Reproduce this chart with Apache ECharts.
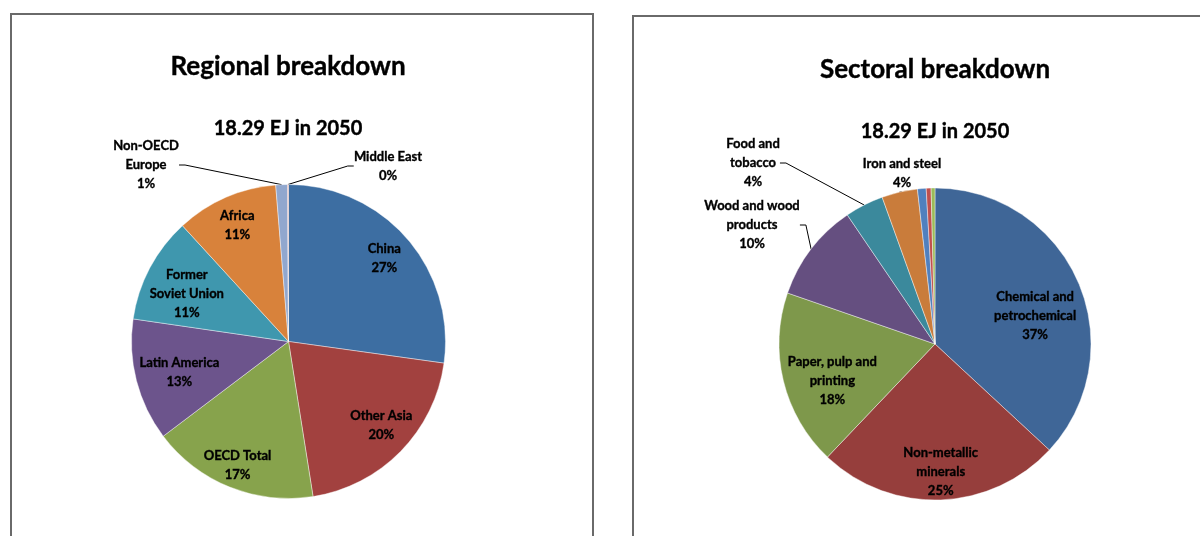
<!DOCTYPE html>
<html>
<head>
<meta charset="utf-8">
<script src="https://cdn.jsdelivr.net/npm/echarts@6/dist/echarts.min.js"></script>
<style>
  html, body { margin: 0; padding: 0; background: #fff; }
  #chart { width: 1200px; height: 536px; }
</style>
</head>
<body>
<div id="chart"></div>
<script>
// regional breakdown, clockwise from 12 o'clock
const regions = ['China', 'Other Asia', 'OECD Total', 'Latin America', 'Former\nSoviet Union', 'Africa', 'Non-OECD\nEurope', 'Middle East']
const regionShare = [27.2, 20.3, 17.2, 12.6, 10.9, 10.5, 1.2, 0.1]

// sectoral breakdown, clockwise from 12 o'clock (last three are unlabeled slivers)
const sectors = ['Chemical and\npetrochemical', 'Non-metallic\nminerals', 'Paper, pulp and\nprinting', 'Wood and wood\nproducts', 'Food and\ntobacco', 'Iron and steel', 'Other (1)', 'Other (2)', 'Other (3)']
const sectorShare = [36.9, 25.2, 18.2, 10.2, 4.0, 3.7, 0.9, 0.5, 0.4]

const titles = ['Regional breakdown', 'Sectoral breakdown']
const subtitle = '18.29 EJ in 2050'

const regionColors = ['#3d6ea2', '#a2413f', '#87a34c', '#6c548c', '#3f97ae', '#d8823b', '#91a7ce', '#cf8a88']
const sectorColors = ['#3f6697', '#963e3c', '#7e984b', '#654f80', '#3b899c', '#c97c3b', '#5080be', '#c0504d', '#9bbb59']

const FONT = 'Lato'
// thin black text border gives the heavier Calibri-bold look
const labelFont = { fontFamily: FONT, fontWeight: 'bold', fontSize: 13, lineHeight: 19, color: '#000', textBorderColor: '#000', textBorderWidth: 0.35 }
const fmt = p => p.name + '\n' + Math.round(p.percent) + '%'

// builds the visible pie (outside labels with leader lines) and a transparent
// twin whose "inside" labels sit further out, like Excel's best-fit labels
function pieSeries(names, values, colors, center, radius, labelR, outsidePos, hidden, nudges) {
  const pie = {
    type: 'pie',
    center: center,
    radius: radius,
    startAngle: 90,
    clockwise: true,
    silent: true,
    avoidLabelOverlap: false,
    itemStyle: { borderColor: 'rgba(255,255,255,0.7)', borderWidth: 0.6 },
    label: Object.assign({ show: true, position: 'outside', formatter: fmt }, labelFont),
    labelLine: { show: true, length: 10, length2: 6, smooth: false, lineStyle: { color: '#000', width: 1 } },
    labelLayout: p => {
      const pos = outsidePos[names[p.dataIndex]]
      return pos ? { x: pos[0], y: pos[1], align: 'center', verticalAlign: 'middle' } : {}
    },
    data: names.map((n, i) => ({
      name: n,
      value: values[i],
      itemStyle: { color: colors[i] },
      label: { show: n in outsidePos },
      labelLine: { show: n in outsidePos }
    }))
  }
  const labels = {
    type: 'pie',
    center: center,
    radius: [0, labelR * 2],
    startAngle: 90,
    clockwise: true,
    silent: true,
    z: 3,
    itemStyle: { color: 'rgba(0,0,0,0)', borderWidth: 0 },
    label: Object.assign({ show: true, position: 'inside', formatter: fmt }, labelFont),
    labelLine: { show: false },
    labelLayout: p => {
      const d = nudges[names[p.dataIndex]] || [0, 0]
      return { dx: d[0], dy: d[1] }
    },
    data: names.map((n, i) => ({
      name: n,
      value: values[i],
      label: { show: !(n in outsidePos) && hidden.indexOf(n) < 0 }
    }))
  }
  return [pie, labels]
}

const chart = echarts.init(document.getElementById('chart'))

const titleStyle = { fontFamily: FONT, fontWeight: 'bold', fontSize: 26, color: '#000', textBorderColor: '#000', textBorderWidth: 0.4 }
const subStyle = { fontFamily: FONT, fontWeight: 'bold', fontSize: 20, color: '#000', textBorderColor: '#000', textBorderWidth: 0.4 }

chart.setOption({
  animation: false,
  backgroundColor: '#fff',
  title: [
    { text: titles[0], left: 288, top: 54, textAlign: 'center', padding: 0, textStyle: titleStyle },
    { text: subtitle, left: 288, top: 119, textAlign: 'center', padding: 0, textStyle: subStyle },
    { text: titles[1], left: 935, top: 57, textAlign: 'center', padding: 0, textStyle: titleStyle },
    { text: subtitle, left: 935, top: 122, textAlign: 'center', padding: 0, textStyle: subStyle }
  ],
  graphic: [
    { type: 'rect', shape: { x: 11, y: 14, width: 582, height: 600 }, style: { fill: 'none', stroke: '#6a6a6a', lineWidth: 2 } },
    { type: 'rect', shape: { x: 633, y: 16, width: 600, height: 600 }, style: { fill: 'none', stroke: '#6a6a6a', lineWidth: 2 } }
  ],
  series: [].concat(
    pieSeries(regions, regionShare, regionColors, [288.5, 341.5], 157, 120,
      { 'Non-OECD\nEurope': [146, 165], 'Middle East': [388, 166] },
      [],
      { 'China': [3, -2], 'Other Asia': [5, -2], 'OECD Total': [-5, 10], 'Latin America': [10, 0], 'Former\nSoviet Union': [7, 10], 'Africa': [-2, -3] }),
    pieSeries(sectors, sectorShare, sectorColors, [935, 344], 156, 115,
      { 'Wood and wood\nproducts': [752, 225], 'Food and\ntobacco': [753, 163], 'Iron and steel': [902, 173] },
      ['Other (1)', 'Other (2)', 'Other (3)'],
      { 'Chemical and\npetrochemical': [-8, 19], 'Non-metallic\nminerals': [2, 10], 'Paper, pulp and\nprinting': [12, 9] })
  )
})
</script>
</body>
</html>
